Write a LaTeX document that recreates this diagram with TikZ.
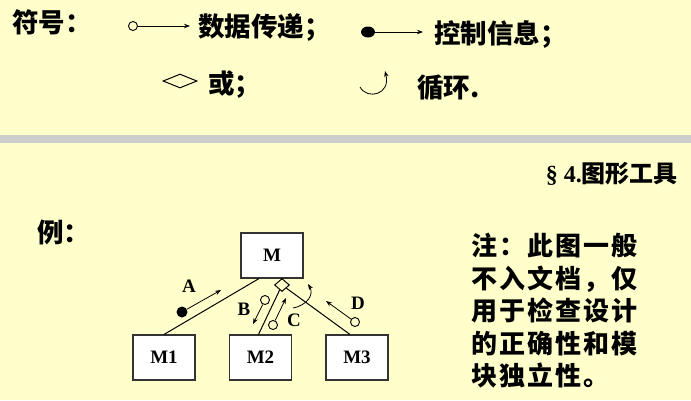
\documentclass[tikz,border=0pt]{standalone}
\usepackage{fontspec}
\setmainfont{Liberation Serif}
\newfontfamily\cjk{Noto Sans CJK SC}
\usetikzlibrary{arrows.meta,shapes.geometric}
\definecolor{paper}{HTML}{FFFFCC}
\definecolor{band}{HTML}{CCCCCC}

\begin{document}
\begin{tikzpicture}[x=1pt, y=-1pt,
    module/.style={draw=black!80, fill=white, line width=1.1pt, inner sep=0pt,
      minimum width=62pt, minimum height=45pt, font=\bfseries\fontsize{19}{19}\selectfont},
    datum/.style={circle, draw, line width=0.9pt, inner sep=0pt, minimum size=9pt},
    ctrl/.style={circle, fill=black, inner sep=0pt, minimum size=11pt},
    flow/.style={line width=0.8pt, -{Stealth[length=6pt, width=4.5pt]}},
    tie/.style={line width=1pt},
    orbox/.style={diamond, draw, line width=1pt, inner sep=0pt, aspect=1.2,
      minimum width=15pt, minimum height=13pt},
    tag/.style={inner sep=0pt, font=\bfseries\fontsize{19}{19}\selectfont},
    say/.style={inner sep=0pt, font=\cjk\bfseries\fontsize{26.5}{26.5}\selectfont}]
  \fill[paper] (0, 0) rectangle (691, 400);
  \fill[band] (0, 135) rectangle (691, 143);
  % \draw[help lines, step=20] (0, 0) grid (691, 400);

  \node[say, anchor=west] (sym) at (12, 22) {符号：};
  \node[datum] (leg0) at (133, 26) {};
  \coordinate (leg1) at (190, 26);
  \draw[flow] (leg0) -- (leg1);
  \node[say, anchor=west] (legt1) at (198, 27) {数据传递；};

  \node[ctrl, minimum width=14pt, minimum height=11pt, ellipse] (leg2) at (368, 32) {};
  \coordinate (leg3) at (423, 32);
  \draw[flow] (leg2) -- (leg3);
  \node[say, anchor=west] (legt2) at (434, 34) {控制信息；};

  \node[orbox, aspect=2.4, minimum width=34pt, minimum height=14pt] (leg4) at (180, 81) {};
  \node[say, anchor=west] (legt3) at (208, 85) {或；};
  \draw[flow] (360, 87) .. controls (367, 100) and (391, 95) .. (385, 71);
  \node[say, anchor=west] (legt4) at (417, 88) {循环.};

  \node[anchor=east, inner sep=0pt, font=\bfseries\fontsize{24}{24}\selectfont] (sect)
    at (678, 174) {\S~4.{\cjk 图形工具}};
  \node[say, anchor=west] (ex) at (37, 232) {例：};

  \node[module] (m) at (272, 255.5) {M};
  \node[module] (m1) at (164, 357.5) {M1};
  \node[module] (m2) at (260.5, 357.5) {M2};
  \node[module] (m3) at (357, 357.5) {M3};
  \node[orbox, fill=paper] (or) at (282, 285) {};

  \draw[tie] ([xshift=-13pt]m.south) -- (m1.north);
  \draw[tie] (or) -- ([xshift=-2pt]m2.north);
  \draw[tie] (or) -- ([xshift=-7pt]m3.north);

  \node[ctrl] (a0) at (182, 312) {};
  \coordinate (a1) at (221, 290);
  \draw[flow] (a0) -- (a1);
  \node[tag] (la) at (189, 286) {A};

  \node[datum] (b0) at (265, 300) {};
  \coordinate (b1) at (253, 324);
  \draw[flow] (b0) -- (b1);
  \node[tag] (lb) at (244, 309) {B};

  \node[datum] (c0) at (273, 325) {};
  \coordinate (c1) at (286, 298);
  \draw[flow] (c0) -- (c1);
  \node[tag] (lc) at (294, 320) {C};
  \draw[flow] (293, 308) .. controls (308, 305) and (314, 294) .. (308, 284);

  \node[datum] (d0) at (355, 322) {};
  \coordinate (d1) at (326, 301);
  \draw[flow] (d0) -- (d1);
  \node[tag] (ld) at (358, 303) {D};

  \node[inner sep=0pt, anchor=north west, align=left,
    font=\cjk\bfseries\fontsize{26}{32.5}\selectfont\addfontfeature{LetterSpace=8}] (note)
    at (471, 233) {注：此图一般\\不入文档，仅\\用于检查设计\\的正确性和模\\块独立性。};
\end{tikzpicture}
\end{document}
